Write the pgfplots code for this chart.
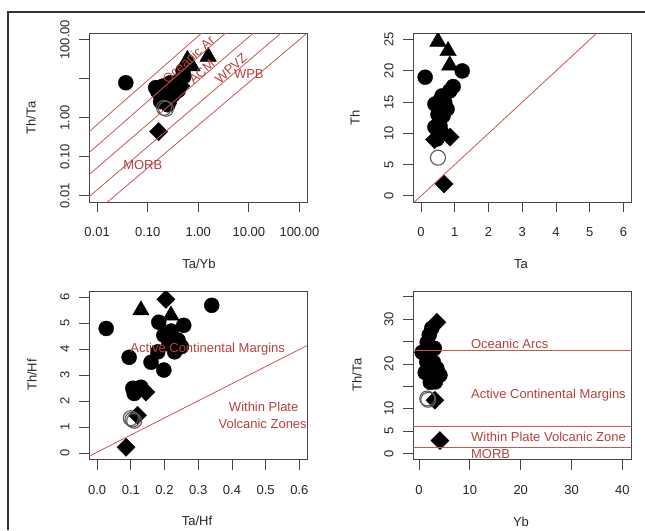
\documentclass[border=0pt]{standalone}
\usepackage{fontspec}
\setmainfont{Liberation Sans}
\usepackage{pgfplots}
\pgfplotsset{compat=1.18}
\definecolor{redline}{RGB}{196,88,84}
\definecolor{redtext}{RGB}{184,64,62}
\definecolor{axgray}{RGB}{70,70,70}
\tikzset{rt/.style={text=redtext, font=\fontsize{13}{15}\selectfont, inner sep=0pt}}
\pgfplotsset{
  rpanel/.style={
    scale only axis,
    width=218.5pt, height=168.5pt,
    anchor=north west,
    axis line style={draw=axgray, line width=0.9pt},
    tick style={draw=axgray, line width=0.9pt},
    tick align=outside,
    major tick length=10pt,
    xtick pos=left, ytick pos=left,
    xminorticks=false, yminorticks=false,
    ticklabel style={font=\fontsize{13}{15}\selectfont, text=black!85},
    yticklabel style={rotate=90, anchor=south},
    xticklabel style={anchor=north},
    xticklabel shift=12pt,
    yticklabel shift=6pt,
    clip marker paths=true,
  },
  circ/.style={only marks, mark=*, mark size=7.5pt, mark options={draw=black, fill=black}},
  tri/.style={only marks, mark=triangle*, mark size=9.5pt, mark options={draw=black, fill=black}},
  diam/.style={only marks, mark=square*, mark size=6.4pt, mark options={draw=black, fill=black, rotate=45}},
  opn/.style={only marks, mark=o, mark size=7.5pt, mark options={draw=black!65, line width=1.1pt}},
  rl/.style={draw=redline, line width=0.8pt, no marks},
}
\begin{document}
\begin{tikzpicture}
\useasboundingbox (0,0) rectangle (645pt,-530pt);
\draw[line width=1.5pt, black!80] (8pt,-530pt) -- (8pt,-12pt) -- (645pt,-12pt);

% Panel 1
\begin{axis}[rpanel, at={(89pt,-33.5pt)},
  xmode=log, ymode=log,
  xmin=0.006918, xmax=144.5, ymin=0.006918, ymax=144.5,
  xtick={0.01,0.1,1,10,100}, xticklabels={0.01,0.10,1.00,10.00,100.00},
  ytick={0.01,0.1,1,10,100}, yticklabels={0.01,0.10,1.00,,100.00}]
\addplot[circ] coordinates {(0.037,7.9) (0.144,5.9) (0.16,4.6) (0.21,3.5) (0.18,2.6) (0.25,2.15) (0.23,3.0) (0.32,3.9) (0.28,7.9) (0.36,6.0) (0.44,9.4) (0.40,5.0) (0.30,5.2) (0.52,11.5) (0.27,2.7) (0.2,6.5) (0.5,16)};
\addplot[tri] coordinates {(0.61,30.6) (1.57,37) (0.75,21)};
\addplot[diam] coordinates {(0.165,0.44) (0.45,6.5)};
\addplot[opn] coordinates {(0.21,1.8) (0.23,1.7)};
\addplot[rl] coordinates {(0.005012,0.3034) (1.521,199.5)};
\addplot[rl] coordinates {(0.005012,0.08770) (4.498,199.5)};
\addplot[rl] coordinates {(0.005012,0.02410) (15.96,199.5)};
\addplot[rl] coordinates {(0.005012,0.006607) (56.62,199.5)};
\addplot[rl] coordinates {(0.01197,0.005012) (199.5,215.3)};
\node[rt, rotate=42] at (axis cs:0.637,30.7) {Oceanic Ar};
\node[rt, rotate=42] at (axis cs:1.17,15) {ACM};
\node[rt, rotate=42] at (axis cs:4.44,18.6) {WPVZ};
\node[rt] at (axis cs:10,13) {WPB};
\node[rt] at (axis cs:0.080,0.0624) {MORB};
\end{axis}

% Panel 2
\begin{axis}[rpanel, at={(413pt,-33.5pt)},
  xmin=-0.24, xmax=6.24, ymin=-1, ymax=26,
  xtick={0,1,2,3,4,5,6}, xticklabels={0,1,2,3,4,5,6},
  ytick={0,5,10,15,20,25}, yticklabels={0,5,10,15,20,25}]
\addplot[tri] coordinates {(0.5,24.7) (0.8,23.2) (0.85,20.9)};
\addplot[circ] coordinates {(1.22,20.0) (0.12,19.0) (0.95,17.5) (0.85,16.8) (0.62,16.0) (0.55,15.2) (0.7,15.0) (0.41,14.7) (0.77,13.9) (0.5,13.0) (0.65,12.8) (0.56,11.2) (0.41,11.0) (0.6,10.2) (0.47,9.1)};
\addplot[diam] coordinates {(0.86,9.4) (0.4,9.0) (0.68,1.9)};
\addplot[opn] coordinates {(0.5,6.1)};
\addplot[rl] coordinates {(-0.2,-1) (5.2,26)};
\end{axis}

% Panel 3
\begin{axis}[rpanel, at={(89pt,-291pt)},
  xmin=-0.024, xmax=0.624, ymin=-0.24, ymax=6.24,
  xtick={0,0.1,0.2,0.3,0.4,0.5,0.6}, xticklabels={0.0,0.1,0.2,0.3,0.4,0.5,0.6},
  ytick={0,1,2,3,4,5,6}, yticklabels={0,1,2,3,4,5,6}]
\addplot[circ] coordinates {(0.34,5.69) (0.027,4.8) (0.183,5.04) (0.257,4.92) (0.22,4.7) (0.198,4.54) (0.24,4.35) (0.25,4.1) (0.213,4.2) (0.18,3.9) (0.23,3.9) (0.095,3.69) (0.16,3.5) (0.198,3.2) (0.106,2.5) (0.13,2.54) (0.11,2.3)};
\addplot[tri] coordinates {(0.130,5.5) (0.219,5.3)};
\addplot[diam] coordinates {(0.204,5.92) (0.145,2.35) (0.12,1.46) (0.086,0.23)};
\addplot[opn] coordinates {(0.1,1.35) (0.105,1.3) (0.11,1.25)};
\addplot[rl] coordinates {(-0.03,-0.155) (0.63,4.19)};
\node[rt] at (axis cs:0.328,4.0) {Active Continental Margins};
\node[rt] at (axis cs:0.494,1.77) {Within Plate};
\node[rt] at (axis cs:0.491,1.12) {Volcanic Zones};
\end{axis}

% Panel 4
\begin{axis}[rpanel, at={(413pt,-291pt)},
  xmin=-1.2, xmax=41.8, ymin=-1.34, ymax=36.3,
  xtick={0,10,20,30,40}, xticklabels={0,10,20,30,40},
  ytick={0,5,10,15,20,25,30,35}, yticklabels={0,5,10,,20,,30,}]
\addplot[circ] coordinates {(2.7,37) (2.5,28) (2.0,26.5) (1.6,24.8) (3.0,23.5) (0.6,22.6) (1.8,21.9) (1.5,20.5) (2.8,20.4) (3.5,19) (1.2,18.1) (4.1,17.5) (3.2,16.0) (2.2,15.9)};
\addplot[diam] coordinates {(3.5,29.3) (3.1,11.9) (4.1,2.9)};
\addplot[opn] coordinates {(1.6,12.3) (1.8,12.0)};
\addplot[rl] coordinates {(-5,23) (50,23)};
\addplot[rl] coordinates {(-5,6) (50,6)};
\addplot[rl] coordinates {(-5,1.3) (50,1.3)};
\node[rt, anchor=west] at (axis cs:10.2,24.6) {Oceanic Arcs};
\node[rt, anchor=west] at (axis cs:10.2,13.0) {Active Continental Margins};
\node[rt, anchor=west] at (axis cs:10.2,3.8) {Within Plate Volcanic Zone};
\node[rt, anchor=west] at (axis cs:10.2,-0.1) {MORB};
\end{axis}

% axis titles
\begin{scope}[every node/.style={font=\fontsize{13}{15}\selectfont, text=black!85}]
\node at (199pt,-264pt) {Ta/Yb};
\node[rotate=90] at (31pt,-118pt) {Th/Ta};
\node at (521pt,-264pt) {Ta};
\node[rotate=90] at (355pt,-118pt) {Th};
\node at (197pt,-521pt) {Ta/Hf};
\node[rotate=90] at (32pt,-375pt) {Th/Hf};
\node at (521pt,-522pt) {Yb};
\node[rotate=90] at (357pt,-375pt) {Th/Ta};
\end{scope}
\end{tikzpicture}
\end{document}
